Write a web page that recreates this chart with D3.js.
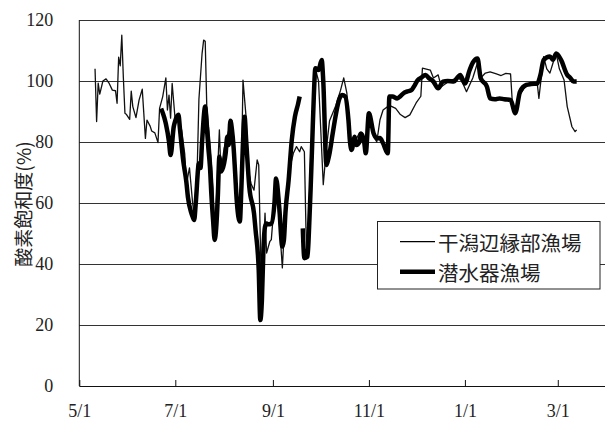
<!DOCTYPE html>
<html lang="ja">
<head>
<meta charset="UTF-8">
<title>酸素飽和度</title>
<script src="https://d3js.org/d3.v7.min.js"></script>
<style>
    body { margin: 0; background: #fff; }
    svg text { fill: #222; }
</style>
</head>
<body>
<svg id="chart"></svg>

<script>
    // days counted from 5/1, values in %
    const edgeDays = [10, 11, 12, 13, 15, 17, 19, 21, 23, 24, 25, 26, 27, 28, 29, 30, 32, 33, 34, 36, 38, 40, 42, 43, 45, 46, 48, 50,
        51, 53, 55, 56, 57, 58, 59, 61, 63, 65, 67, 68, 70, 72, 73, 75, 76, 78, 79, 80, 81, 83, 84, 85, 86, 87, 89, 90, 92, 94,
        96, 97, 98, 99, 100, 102, 103, 104, 106, 107, 109, 111, 113, 114, 116, 117, 118, 119, 121, 122, 125, 127, 129, 131, 134,
        136, 138, 140, 141, 143, 144, 145, 147, 150, 152, 155, 157, 159, 163, 166, 168, 170, 172, 175, 178, 182, 184, 187, 189,
        191, 193, 197, 201, 204, 207, 210, 214, 217, 218, 223, 225, 228, 230, 236, 241, 243, 246, 250, 253, 255, 258, 261, 265,
        268, 271, 274, 275, 277, 280, 284, 288, 291, 292, 295, 297, 299, 301, 303, 305, 308, 310, 313, 315, 316];
    const edgeVals = [104, 86.7, 99.3, 95.7, 100, 100.7, 99.2, 97, 96.8, 92.7, 107.8, 105, 115, 101, 89.4, 89, 87.4, 96.7, 91.6, 88, 93.8, 97.3, 81.2, 87.2, 85.2, 83.6, 83, 79.8,
        91, 94.9, 101, 90.5, 95.4, 87.8, 99.2, 86.7, 88, 84, 76, 66, 71.5, 60, 56, 73, 94, 109, 113.4, 113, 91.6, 80, 73, 65, 50, 60, 84, 70, 78, 82,
        86, 87, 76, 68, 60, 55, 70, 100.3, 88, 72, 66.5, 64.2, 74.1, 72.5, 24, 45, 56.7, 43.6, 47.3, 48, 67.5, 54.4, 38.7, 58, 72,
        76.3, 78.5, 76.8, 78.5, 76.8, 52, 42, 75, 104, 100, 66, 78, 87, 92, 97, 101, 96, 80, 80, 83, 78, 88, 82, 80,
        87.2, 90.5, 92, 91, 89, 88, 88.9, 92.8, 95, 104.2, 103.6, 101, 102, 98.1, 100.3, 101, 100, 96.5, 101, 106, 101, 102.6, 103, 102.3,
        101.8, 102.5, 102.3, 94, 88.9, 95.5, 98.7, 99, 99, 94.3, 108, 104, 102.6, 106, 109, 104, 100.3, 91.6, 85, 83.4, 84];

    // null = no data
    const diverDays = [52, 54, 55, 57, 58, 60, 61, 63, 64, 66, 68, 69, 71, 72, 73, 74, 76, 77, 78, 80, 81, 82, 83, 84, 85, 86, 87,
        88, 89, 90, 92, 93, 94, 95, 96, 97, 98, 99, 100, 102, 103, 104, 105, 106, 108, 111, 112, 114, 115, 116, 117, 118, 119, 120,
        122, 124, 125, 127, 129, 130, 131, 133, 135, 137, 139, 140, 141, 142, 143, 145, 146, 147, 148, 149, 150, 152, 154, 155, 157,
        158, 159, 161, 163, 165, 167, 169, 171, 172, 173, 175, 176, 178, 179, 181, 182, 184, 187, 189, 191, 193, 196, 197, 199, 202,
        204, 206, 208, 211, 213, 215, 217, 220, 222, 225, 228, 231, 234, 238, 240, 242, 245, 248, 250, 253, 255, 259, 261, 264, 267,
        270, 274, 277, 280, 284, 287, 291, 293, 295, 299, 301, 303, 306, 310, 312, 314, 316];
    const diverVals = [91, 88, 86, 80, 75.7, 85, 87, 88.9, 84, 74, 67, 62, 57, 55.5, 54.4, 60, 73, 71.5, 80, 91.6, 85, 78, 71.9, 62, 54.4, 47.9, 52,
        62, 75.2, 70.3, 73, 76.3, 81.7, 79, 87, 84, 78.5, 70, 61, 53.9, 65.3, 80, 88.3, 80.7, 65.3, 56.6, 51.1, 38, 21.6, 28, 45, 52.2, 53.3, 53,
        53.3, 60, 68, 58.8, 45.7, 47.9, 57, 67.5, 80.7, 88.3, 92.5, 94.9, null, 51.7, 41.9, 42.4, 52, 65, 80, 95, 104.2, 103.6, 106.9, 100, 72.5,
        74, 76.3, 82.8, 89, 93.8, 95.4, 94.9, 87.2, 80, 77.4, 81.7, 79, 80, 82.8, 80, 76.3, 89.4, 82.8, 81.2, 81.3, 79.6, 76.3, 94.9, 94.9, 94.3,
        95, 96, 96.5, 97, 98.5, 100.3, 101, 102, 101, 99.8, 97.6, 99.8, 100, 99.8, 101, 102, 99.2, 103.6, 106, 107.4, 101, 98.1, 94.3, 94, 94.3,
        94, 93.8, 89.5, 96.5, 98.7, 99, 99.2, 102, 106.9, 108, 107, 109, 107, 102, 101, 99.8, 99.8];

    const seriesNames = ["干潟辺縁部漁場", "潜水器漁場"];
    const yTicks = [0, 20, 40, 60, 80, 100, 120];
    const xTickDates = ["2010-05-01", "2010-07-01", "2010-09-01", "2010-11-01", "2011-01-01", "2011-03-01"];

    let width = 605,
        height = 425;
    let margin = {top: 20, right: 0, bottom: 39, left: 79.3};

    let svg = d3.select("#chart")
        .attr("width", width)
        .attr("height", height);

    let start = new Date(2010, 4, 1),
        end = new Date(2011, 2, 31);

    let x = d3.scaleTime()
        .domain([start, end])
        .range([margin.left, width - margin.right]);

    let y = d3.scaleLinear()
        .domain([0, 120])
        .range([height - margin.bottom, margin.top]);

    let toData = function (days, vals) {
        return days.map(function (d, i) {
            return {date: d3.timeDay.offset(start, d), value: vals[i]};
        });
    };
    let edge = toData(edgeDays, edgeVals);
    let diver = toData(diverDays, diverVals);

    // grid + y labels
    let yAxis = d3.axisLeft(y)
        .tickValues(yTicks)
        .tickSize(-(width - margin.left - margin.right))
        .tickPadding(26)
        .tickFormat(d3.format("d"));

    let gy = svg.append("g")
        .attr("transform", "translate(" + margin.left + ",0)")
        .call(yAxis);
    gy.select(".domain").remove();
    gy.selectAll(".tick line").attr("stroke", "#333").attr("stroke-width", 1);
    gy.selectAll(".tick text")
        .attr("font-family", "'Liberation Serif', serif")
        .attr("font-size", 18)
        .attr("fill", "#222");

    // y axis line
    svg.append("line")
        .attr("x1", margin.left).attr("x2", margin.left)
        .attr("y1", y(120)).attr("y2", y(0))
        .attr("stroke", "#111");

    // x axis, ticks pointing up
    let xAxis = d3.axisBottom(x)
        .tickValues(xTickDates.map(function (s) { return d3.timeParse("%Y-%m-%d")(s); }))
        .tickSizeInner(-6)
        .tickSizeOuter(0)
        .tickPadding(18)
        .tickFormat(d3.timeFormat("%-m/%-d"));

    let gx = svg.append("g")
        .attr("transform", "translate(0," + y(0) + ")")
        .call(xAxis);
    gx.select(".domain").attr("stroke", "#111");
    gx.selectAll(".tick line").attr("stroke", "#111");
    gx.selectAll(".tick text")
        .attr("font-family", "'Liberation Serif', serif")
        .attr("font-size", 18)
        .attr("fill", "#222");

    // y title
    svg.append("text")
        .attr("transform", "translate(22," + 204 + ") rotate(-90)")
        .attr("text-anchor", "middle")
        .attr("dominant-baseline", "central")
        .attr("font-family", "'Noto Sans CJK JP', sans-serif")
        .attr("font-size", 19)
        .attr("fill", "#333")
        .text("酸素飽和度(%)");

    let line = d3.line()
        .defined(function (d) { return d.value !== null; })
        .x(function (d) { return x(d.date); })
        .y(function (d) { return y(d.value); });

    svg.append("path")
        .datum(edge)
        .attr("d", line.curve(d3.curveLinear))
        .attr("fill", "none")
        .attr("stroke", "#111")
        .attr("stroke-width", 1.3)
        .attr("stroke-linejoin", "round");

    svg.append("path")
        .datum(diver)
        .attr("d", line.curve(d3.curveMonotoneX))
        .attr("fill", "none")
        .attr("stroke", "#000")
        .attr("stroke-width", 4.5)
        .attr("stroke-linejoin", "round");

    // legend
    let legend = svg.append("g");
    legend.append("rect")
        .attr("x", 377.5).attr("y", 221.5)
        .attr("width", 222.5).attr("height", 67.5)
        .attr("fill", "#fff")
        .attr("stroke", "#222");

    let widths = [1.3, 4.5];
    seriesNames.forEach(function (name, i) {
        let ly = 241.7 + i * 30;
        legend.append("line")
            .attr("x1", 400).attr("x2", 435)
            .attr("y1", ly).attr("y2", ly)
            .attr("stroke", "#000")
            .attr("stroke-width", widths[i]);
        legend.append("text")
            .attr("x", 438)
            .attr("y", ly)
            .attr("dominant-baseline", "central")
            .attr("font-family", "'Noto Sans CJK JP', sans-serif")
            .attr("font-size", 20.5)
            .attr("fill", "#222")
            .text(name);
    });
</script>
</body>
</html>
